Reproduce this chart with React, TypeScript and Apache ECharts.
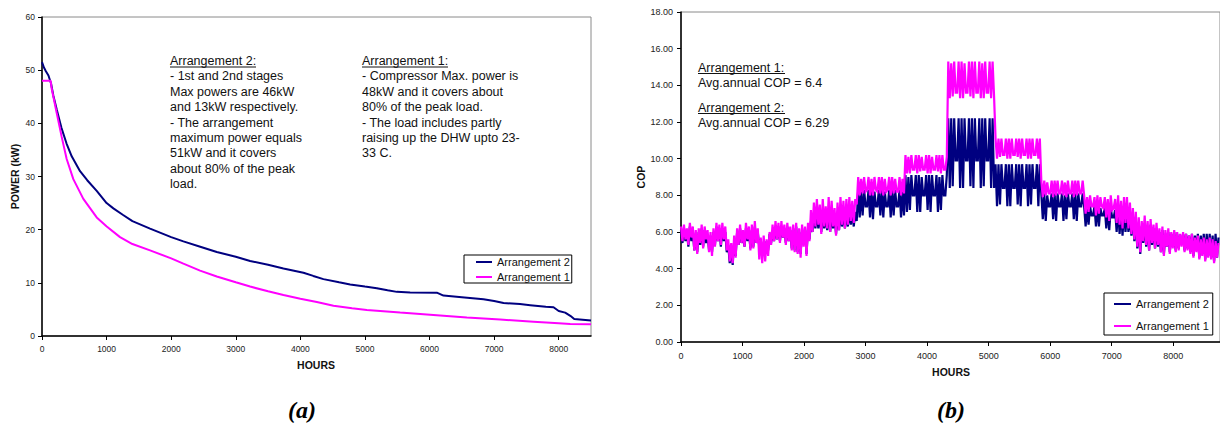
import React, { useEffect, useRef } from 'react';
import * as echarts from 'echarts';

const FONT = '"Liberation Sans", Arial, Helvetica, sans-serif';
const SERIF = '"Liberation Serif", "Times New Roman", serif';
const NAVY = '#000080';
const MAGENTA = '#FF00FF';

// ---------- (a) load duration curves ----------
const loadHours2 = [0, 30, 60, 100, 140, 176, 230, 300, 380, 460, 589, 700, 847, 1000, 1105, 1250, 1400, 1673, 2000, 2189, 2450, 2706, 3000, 3222, 3500, 3738, 4048, 4200, 4357, 4600, 4771, 5000, 5184, 5350, 5494, 5700, 6113, 6216, 6500, 6836, 7000, 7146, 7400, 7559, 7800, 7920, 8000, 8100, 8180, 8240, 8500];
const loadArr2 = [51.5, 50.5, 49.8, 49.0, 47.5, 45.2, 42.5, 39.2, 36.2, 33.8, 31.0, 29.3, 27.3, 25.0, 24.0, 22.8, 21.6, 20.2, 18.6, 17.8, 16.8, 15.8, 14.9, 14.1, 13.4, 12.7, 11.9, 11.3, 10.7, 10.1, 9.7, 9.3, 9.0, 8.6, 8.3, 8.2, 8.15, 7.6, 7.3, 6.9, 6.6, 6.2, 6.0, 5.8, 5.5, 5.4, 4.7, 4.4, 3.8, 3.2, 2.9];
const loadHours1 = [0, 134, 150, 176, 227, 304, 382, 485, 640, 847, 1002, 1208, 1400, 1673, 2000, 2189, 2447, 2706, 3000, 3222, 3500, 3738, 4000, 4255, 4513, 4800, 5029, 5545, 6061, 6578, 7094, 7610, 8000, 8178, 8500];
const loadArr1 = [48, 48, 46.5, 45, 42, 37.5, 33.3, 29.5, 25.8, 22.3, 20.6, 18.6, 17.3, 16.1, 14.6, 13.6, 12.3, 11.2, 10.1, 9.3, 8.4, 7.7, 7.0, 6.4, 5.7, 5.2, 4.9, 4.4, 3.95, 3.5, 3.1, 2.7, 2.4, 2.25, 2.2];

// ---------- (b) COP, one reading per day (hours = day * 24) ----------
const COP_STEP_HOURS = 24;
const cop1Winter = [
  6.3, 5.5, 6.4, 5.6, 6.2, 5.3, 6.5, 5.7, 6.3, 5.0,
  6.1, 4.8, 6.2, 5.4, 6.4, 5.1, 6.3, 5.6, 6.1, 4.9,
  6.0, 4.7, 6.2, 5.2, 6.5, 5.5, 6.4, 5.3, 6.5, 5.6,
  6.3, 5.0, 5.6, 4.4, 5.4, 4.3, 5.8, 4.6, 6.2, 5.3,
  6.4, 5.4, 6.1, 5.2, 6.5, 5.6, 6.3, 5.0, 6.4, 5.1,
  6.6, 5.4, 6.2, 4.5, 5.7, 4.3, 5.8, 4.4, 5.6, 4.7,
  6.0, 5.3, 6.4, 5.5, 6.6, 5.6, 6.5, 5.4, 6.6, 5.7,
  6.4, 5.3, 6.5, 5.5, 6.3, 5.0, 6.4, 4.9, 6.5, 4.8,
  6.2, 4.6, 6.4, 5.2, 6.3, 4.7, 6.5, 5.5, 7.2, 6.0,
  7.6, 6.3, 7.8, 6.4, 7.5, 5.9, 7.8, 6.3, 7.4, 6.2,
  7.9, 6.0, 7.7, 6.3, 7.3, 5.8, 7.6, 6.1, 7.9, 6.4,
  7.7, 6.2, 7.8, 6.4, 7.9, 6.6, 7.7, 6.5, 7.8, 7.5,
];
const cop1Block1 = [9.0, 8.0, 8.9, 8.1, 9.0, 8.2, 8.3, 9.0, 8.0, 8.9, 8.0, 9.0, 8.3, 8.2, 9.0, 8.1, 9.0, 8.0, 8.9, 8.2, 8.3, 9.0, 8.0, 9.0, 8.1, 8.9, 8.2, 8.2, 9.0, 8.0, 8.9, 8.1];
const cop1Block2 = [10.2, 9.2, 10.1, 9.2, 10.2, 9.4, 9.4, 10.2, 9.2, 10.2, 9.3, 10.1, 9.4, 9.4, 10.2, 9.2, 10.2, 9.2, 10.1, 9.4, 9.4, 10.2, 9.3, 10.2, 9.2, 10.2, 9.4, 9.4, 10.1];
const cop1Block3 = [15.3, 13.3, 15.2, 13.4, 15.3, 13.6, 13.6, 15.3, 13.3, 15.3, 13.3, 15.2, 13.6, 13.6, 15.3, 13.4, 15.3, 13.3, 15.3, 13.6, 13.6, 15.3, 13.3, 15.2, 13.3, 15.3, 13.6, 13.6, 15.3, 13.3, 15.3, 13.4];
const cop1Block4 = [11.1, 10.0, 11.1, 10.1, 11.1, 10.2, 10.2, 11.1, 10.0, 11.1, 10.0, 11.1, 10.2, 10.2, 11.1, 10.1, 11.1, 10.0, 11.1, 10.2, 10.2, 11.1, 10.0, 11.1, 10.0, 11.1, 10.2, 10.2, 11.1, 10.0, 11.1];
const cop1Block5 = [8.8, 7.9, 8.8, 8.0, 8.7, 8.1, 8.1, 8.8, 7.9, 8.8, 8.0, 8.8, 8.1, 8.1, 8.8, 8.0, 8.7, 7.9, 8.8, 8.1, 8.1, 8.8, 7.9, 8.8, 8.0, 8.8, 8.1, 8.1, 8.8];
const cop1Block6 = [8.0, 7.0, 7.9, 7.1, 8.0, 7.4, 7.4, 7.9, 6.9, 8.0, 7.0, 7.9, 7.4, 7.3, 7.9, 6.8, 7.8, 6.6, 8.0, 7.2, 7.3, 7.8, 6.5, 8.0, 6.4, 7.7, 6.2, 7.9, 6.5];
const cop1Tail = [
  7.9, 6.2, 7.6, 5.9, 7.3, 5.6, 7.1, 5.2, 6.8, 4.9,
  6.6, 5.5, 6.9, 5.3, 6.6, 5.0, 6.7, 5.4, 6.4, 5.1,
  6.5, 5.3, 6.2, 4.9, 6.3, 4.7, 6.1, 5.2, 6.2, 4.8,
  6.0, 5.1, 6.1, 4.9, 6.0, 5.0, 5.9, 5.2, 6.0, 4.9,
  5.9, 5.0, 5.8, 4.8, 5.9, 4.6, 5.7, 4.9, 5.8, 4.5,
  5.6, 4.7, 5.7, 4.4, 5.6, 4.6, 5.7, 4.5, 5.6, 4.3,
  5.5, 4.6, 5.4,
];

const cop2Winter = [
  6.1, 5.4, 6.2, 5.5, 6.0, 5.2, 6.3, 5.5, 6.1, 5.0,
  5.9, 4.9, 6.0, 5.3, 6.2, 5.2, 6.1, 5.4, 5.9, 5.0,
  5.8, 4.9, 6.0, 5.3, 6.3, 5.5, 6.2, 5.2, 6.2, 5.5,
  6.0, 4.9, 5.3, 4.3, 5.0, 4.2, 5.5, 4.7, 6.0, 5.3,
  6.2, 5.4, 5.9, 5.2, 6.2, 5.5, 6.1, 5.1, 6.1, 5.2,
  6.3, 5.4, 6.0, 5.2, 5.6, 5.0, 5.4, 4.9, 5.5, 5.0,
  5.9, 5.4, 6.1, 5.5, 6.3, 5.6, 6.3, 5.5, 6.3, 5.7,
  6.2, 5.4, 6.3, 5.5, 6.1, 5.1, 6.2, 5.0, 6.3, 4.9,
  6.0, 4.8, 6.2, 5.3, 6.1, 4.8, 6.2, 5.6, 6.6, 6.0,
  6.9, 6.2, 7.0, 6.2, 6.9, 6.0, 7.0, 6.2, 6.8, 6.1,
  7.1, 6.0, 6.9, 6.2, 6.8, 5.9, 6.9, 6.1, 7.1, 6.3,
  7.0, 6.2, 7.0, 6.3, 7.1, 6.4, 7.0, 6.3, 7.1, 6.6,
];
const cop2Block1 = [8.3, 6.8, 8.2, 6.9, 8.3, 7.4, 7.4, 8.3, 6.8, 8.3, 6.7, 8.2, 7.4, 7.4, 8.3, 6.9, 8.3, 6.8, 8.2, 7.4, 7.4, 8.3, 6.8, 8.3, 6.9, 8.3, 7.4, 7.4, 8.3, 6.8, 8.2, 6.9];
const cop2Block2 = [9.1, 7.1, 9.0, 7.2, 9.1, 8.0, 8.0, 9.1, 7.1, 9.1, 7.1, 9.0, 8.0, 8.0, 9.1, 7.2, 9.1, 7.1, 9.1, 8.0, 8.0, 9.1, 7.1, 9.0, 7.2, 9.1, 8.0, 8.0, 9.1];
const cop2Block3 = [12.2, 8.4, 12.2, 8.5, 12.2, 9.9, 9.9, 12.2, 8.4, 12.2, 8.4, 12.2, 9.9, 9.9, 12.2, 8.5, 12.2, 8.4, 12.2, 9.9, 9.9, 12.2, 8.4, 12.2, 8.5, 12.2, 9.9, 9.9, 12.2, 8.4, 12.2, 8.4];
const cop2Block4 = [9.7, 7.4, 9.7, 7.5, 9.7, 8.4, 8.4, 9.7, 7.4, 9.7, 7.4, 9.7, 8.4, 8.4, 9.7, 7.5, 9.7, 7.4, 9.7, 8.4, 8.4, 9.7, 7.4, 9.7, 7.5, 9.7, 8.4, 8.4, 9.7, 7.4, 9.7];
const cop2Block5 = [8.1, 6.7, 8.1, 6.6, 8.0, 7.4, 7.4, 8.1, 6.7, 8.1, 6.6, 8.1, 7.4, 7.4, 8.1, 6.6, 8.0, 6.7, 8.1, 7.4, 7.4, 8.1, 6.7, 8.1, 6.6, 8.1, 7.4, 7.4, 8.1];
const cop2Block6 = [7.4, 6.3, 7.3, 6.4, 7.4, 6.9, 6.9, 7.4, 6.3, 7.4, 6.3, 7.3, 6.9, 6.9, 7.3, 6.2, 7.2, 6.1, 7.3, 6.8, 6.8, 7.2, 6.0, 7.3, 5.9, 7.1, 5.8, 7.2, 6.0];
const cop2Tail = [
  7.1, 6.0, 6.9, 5.8, 6.8, 5.5, 6.7, 5.1, 6.5, 4.8,
  6.3, 5.4, 6.5, 5.2, 6.3, 5.0, 6.4, 5.3, 6.2, 5.1,
  6.2, 5.2, 6.0, 4.9, 6.1, 4.8, 5.9, 5.2, 6.0, 4.9,
  5.9, 5.2, 6.0, 5.0, 5.9, 5.1, 5.8, 5.3, 5.9, 5.0,
  5.9, 5.1, 5.8, 4.9, 5.9, 4.7, 5.8, 5.0, 5.9, 4.6,
  5.8, 4.8, 5.9, 4.5, 5.9, 4.7, 5.9, 4.6, 5.8, 4.4,
  5.9, 4.6, 5.7,
];

const legendNames = ['Arrangement 2', 'Arrangement 1'];
const notesA2 = ['Arrangement 2:', '- 1st and 2nd stages', 'Max powers are 46kW', 'and 13kW respectively.', '- The arrangement', 'maximum power equals', '51kW and it covers', 'about 80% of the peak', 'load.'];
const notesA1 = ['Arrangement 1:', '- Compressor Max. power is', '48kW and it covers about', '80% of the peak load.', '- The load includes partly', 'raising up the DHW upto 23-', '33 C.'];
const notesB = ['Arrangement 1:', 'Avg.annual COP = 6.4', 'Arrangement 2:', 'Avg.annual COP = 6.29'];

function axisCommon(fontSize: number, margin: number) {
  return {
    axisLine: { show: true, onZero: false, lineStyle: { color: '#000', width: 1.5 } },
    axisTick: { show: true, length: 4, inside: false, lineStyle: { color: '#000', width: 1 } },
    splitLine: { show: false },
    axisLabel: { color: '#222', fontSize, fontFamily: FONT, margin },
  };
}

export default function App() {
  const ref = useRef<HTMLDivElement>(null);
  useEffect(() => {
    const chart = echarts.init(ref.current!, null, { renderer: 'svg' });
    const load2 = loadHours2.map((h, i) => [h, loadArr2[i]]);
    const load1 = loadHours1.map((h, i) => [h, loadArr1[i]]);
    const cop1 = [...cop1Winter, ...cop1Block1, ...cop1Block2, ...cop1Block3, ...cop1Block4, ...cop1Block5, ...cop1Block6, ...cop1Tail]
      .map((v, i) => [i * COP_STEP_HOURS, v]);
    const cop2 = [...cop2Winter, ...cop2Block1, ...cop2Block2, ...cop2Block3, ...cop2Block4, ...cop2Block5, ...cop2Block6, ...cop2Tail]
      .map((v, i) => [i * COP_STEP_HOURS, v]);

    const noteFont = `12.5px ${FONT}`;
    const graphics: any[] = [];
    const addText = (text: string, x: number, y: number, font: string) => {
      graphics.push({ type: 'text', x, y, style: { text, font, fill: '#111', align: 'left', verticalAlign: 'middle' } });
    };
    notesA2.forEach((t, i) => addText(t, 170, 61 + i * 15.4, noteFont));
    notesA1.forEach((t, i) => addText(t, 362, 61 + i * 15.4, noteFont));
    const bY = [68, 82.5, 108, 123];
    notesB.forEach((t, i) => addText(t, 698, bY[i], noteFont));
    const underline = (x: number, y: number, w: number) =>
      graphics.push({ type: 'line', shape: { x1: x, y1: y, x2: x + w, y2: y }, style: { stroke: '#111', lineWidth: 1 } });
    underline(170, 67, 86);
    underline(362, 67, 86);
    underline(698, 73.5, 87);
    underline(698, 113.5, 87);
    // axis titles
    const titleFont = `bold 10.5px ${FONT}`;
    graphics.push({ type: 'text', x: 15, y: 176.5, rotation: Math.PI / 2, style: { text: 'POWER (kW)', font: titleFont, fill: '#111', align: 'center', verticalAlign: 'middle' } });
    graphics.push({ type: 'text', x: 316, y: 365, style: { text: 'HOURS', font: titleFont, fill: '#111', align: 'center', verticalAlign: 'middle' } });
    graphics.push({ type: 'text', x: 641, y: 177, rotation: Math.PI / 2, style: { text: 'COP', font: titleFont, fill: '#111', align: 'center', verticalAlign: 'middle' } });
    graphics.push({ type: 'text', x: 951, y: 372, style: { text: 'HOURS', font: titleFont, fill: '#111', align: 'center', verticalAlign: 'middle' } });
    // captions
    const capFont = `italic bold 24px ${SERIF}`;
    graphics.push({ type: 'text', x: 302, y: 410, style: { text: '(a)', font: capFont, fill: '#000', align: 'center', verticalAlign: 'middle' } });
    graphics.push({ type: 'text', x: 951, y: 410, style: { text: '(b)', font: capFont, fill: '#000', align: 'center', verticalAlign: 'middle' } });

    const legendCommon = {
      orient: 'vertical',
      data: legendNames,
      icon: 'rect',
      itemHeight: 2,
      borderColor: '#000',
      borderWidth: 1,
      backgroundColor: '#fff',
      selectedMode: false,
      textStyle: { fontSize: 11, fontFamily: FONT, color: '#111', lineHeight: 12 },
    };

    chart.setOption({
      animation: false,
      backgroundColor: '#fff',
      grid: [
        { left: 42, top: 17, width: 549, height: 319, show: true, borderColor: '#8a8a8a', borderWidth: 1, backgroundColor: 'transparent', containLabel: false },
        { left: 681, top: 12, width: 539, height: 330, show: true, borderColor: '#8a8a8a', borderWidth: 1, backgroundColor: 'transparent', containLabel: false },
      ],
      xAxis: [
        {
          type: 'value', gridIndex: 0, min: 0, max: 8500, interval: 1000, ...axisCommon(8.5, 8),
          axisLabel: { ...axisCommon(8.5, 8).axisLabel, showMaxLabel: false, formatter: (v: number) => (v % 1000 === 0 ? String(v) : '') },
        },
        {
          type: 'value', gridIndex: 1, min: 0, max: 8760, interval: 1000, ...axisCommon(9, 9),
          axisLabel: { ...axisCommon(9, 9).axisLabel, showMaxLabel: false, formatter: (v: number) => (v % 1000 === 0 ? String(v) : '') },
        },
      ],
      yAxis: [
        { type: 'value', gridIndex: 0, min: 0, max: 60, interval: 10, ...axisCommon(8.5, 7) },
        {
          type: 'value', gridIndex: 1, min: 0, max: 18, interval: 2, ...axisCommon(9, 8),
          axisLabel: { ...axisCommon(9, 8).axisLabel, formatter: (v: number) => v.toFixed(2) },
        },
      ],
      legend: [
        { ...legendCommon, left: 464, top: 255, itemWidth: 16, itemGap: 3, padding: [1, 2, 0, 12] },
        { ...legendCommon, left: 1104, top: 293, itemWidth: 17, itemGap: 10, padding: [5, 4, 3, 10] },
      ],
      series: [
        { name: 'Arrangement 2', type: 'line', xAxisIndex: 0, yAxisIndex: 0, data: load2, showSymbol: false, symbol: 'none', lineStyle: { color: NAVY, width: 2 }, itemStyle: { color: NAVY } },
        { name: 'Arrangement 1', type: 'line', xAxisIndex: 0, yAxisIndex: 0, data: load1, showSymbol: false, symbol: 'none', lineStyle: { color: MAGENTA, width: 2 }, itemStyle: { color: MAGENTA } },
        { name: 'Arrangement 2', type: 'line', xAxisIndex: 1, yAxisIndex: 1, data: cop2, showSymbol: false, symbol: 'none', lineStyle: { color: NAVY, width: 2.2, join: 'miter' }, itemStyle: { color: NAVY } },
        { name: 'Arrangement 1', type: 'line', xAxisIndex: 1, yAxisIndex: 1, data: cop1, showSymbol: false, symbol: 'none', lineStyle: { color: MAGENTA, width: 2.2, join: 'miter' }, itemStyle: { color: MAGENTA } },
      ],
      graphic: graphics,
    });
    return () => chart.dispose();
  }, []);
  return <div ref={ref} style={{ position: 'absolute', left: 0, top: 0, width: 1220, height: 425, background: '#fff' }} />;
}
